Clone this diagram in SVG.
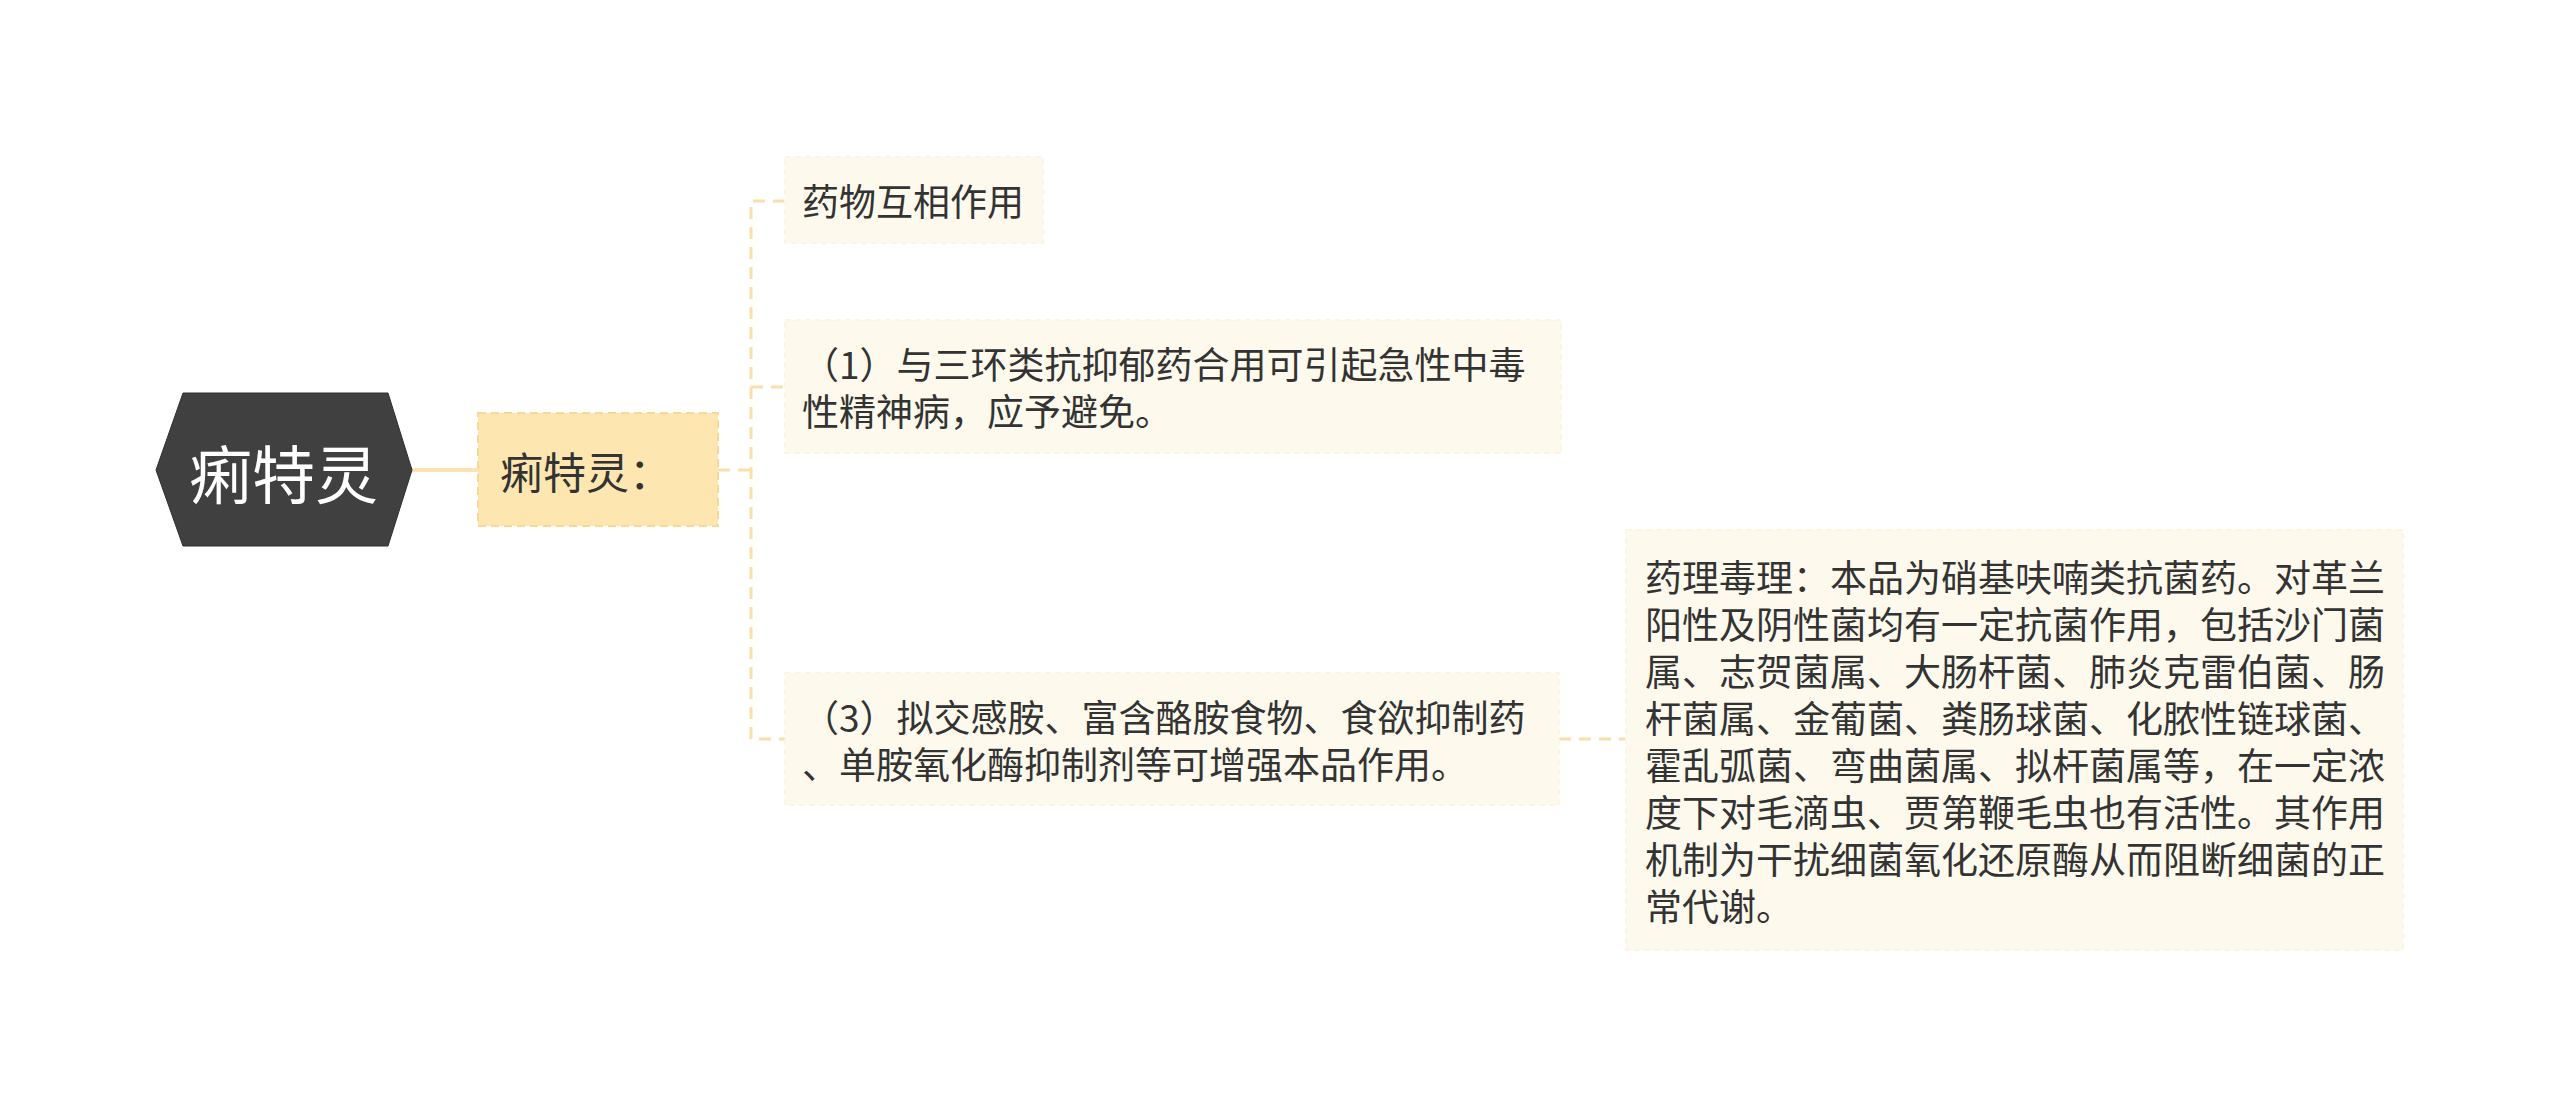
<svg xmlns="http://www.w3.org/2000/svg" width="2560" height="1106" viewBox="0 0 2560 1106">
<style>
.t{font-family:"Noto Sans CJK SC","Noto Sans",sans-serif;fill:#333333;font-size:37px;}
.box{fill:#fdf9ec;stroke:#fcf5e2;stroke-width:2;stroke-dasharray:6 4;}
.conn{fill:none;stroke:#f8e0ad;stroke-width:3;stroke-dasharray:12 8;}
</style>
<rect width="2560" height="1106" fill="#ffffff"/>
<g id="connectors">
<line x1="412" y1="470" x2="478" y2="470" stroke="#fbe4b2" stroke-width="4"/>
<path class="conn" d="M718 470 H751"/>
<path class="conn" d="M785 201 H751 V739 H785"/>
<path class="conn" d="M751 387 H785"/>
<path class="conn" d="M1559 739 H1626"/>
</g>
<g id="root">
<polygon points="156,470 183,393 388,393 412,470 388,546 183,546" fill="#404040" stroke="#2e2e2e" stroke-width="1"/>
<text x="189" y="470" dominant-baseline="central" class="t" style="font-size:63px;fill:#ffffff">痢特灵</text>
</g>
<g id="sub">
<rect x="478" y="413" width="240" height="113" fill="#fde6b0" stroke="#f7d995" stroke-width="2" stroke-dasharray="8 5"/>
<text x="500" y="470" dominant-baseline="central" class="t" style="font-size:43px">痢特灵：</text>
</g>
<g id="n1">
<rect class="box" x="785" y="157" width="258" height="86"/>
<text x="802" y="200" dominant-baseline="central" class="t">药物互相作用</text>
</g>
<g id="n2">
<rect class="box" x="785" y="320" width="776" height="133"/>
<text x="802" y="363" dominant-baseline="central" class="t">（1）与三环类抗抑郁药合用可引起急性中毒</text>
<text x="802" y="410" dominant-baseline="central" class="t">性精神病，应予避免。</text>
</g>
<g id="n3">
<rect class="box" x="785" y="673" width="774" height="132"/>
<text x="802" y="716" dominant-baseline="central" class="t">（3）拟交感胺、富含酪胺食物、食欲抑制药</text>
<text x="802" y="763" dominant-baseline="central" class="t">、单胺氧化酶抑制剂等可增强本品作用。</text>
</g>
<g id="n4">
<rect class="box" x="1626" y="530" width="777" height="420"/>
<text class="t" dominant-baseline="central">
<tspan x="1645" y="576">药理毒理：本品为硝基呋喃类抗菌药。对革兰</tspan>
<tspan x="1645" y="623">阳性及阴性菌均有一定抗菌作用，包括沙门菌</tspan>
<tspan x="1645" y="670">属、志贺菌属、大肠杆菌、肺炎克雷伯菌、肠</tspan>
<tspan x="1645" y="717">杆菌属、金葡菌、粪肠球菌、化脓性链球菌、</tspan>
<tspan x="1645" y="764">霍乱弧菌、弯曲菌属、拟杆菌属等，在一定浓</tspan>
<tspan x="1645" y="811">度下对毛滴虫、贾第鞭毛虫也有活性。其作用</tspan>
<tspan x="1645" y="858">机制为干扰细菌氧化还原酶从而阻断细菌的正</tspan>
<tspan x="1645" y="905">常代谢。</tspan>
</text>
</g>
</svg>
